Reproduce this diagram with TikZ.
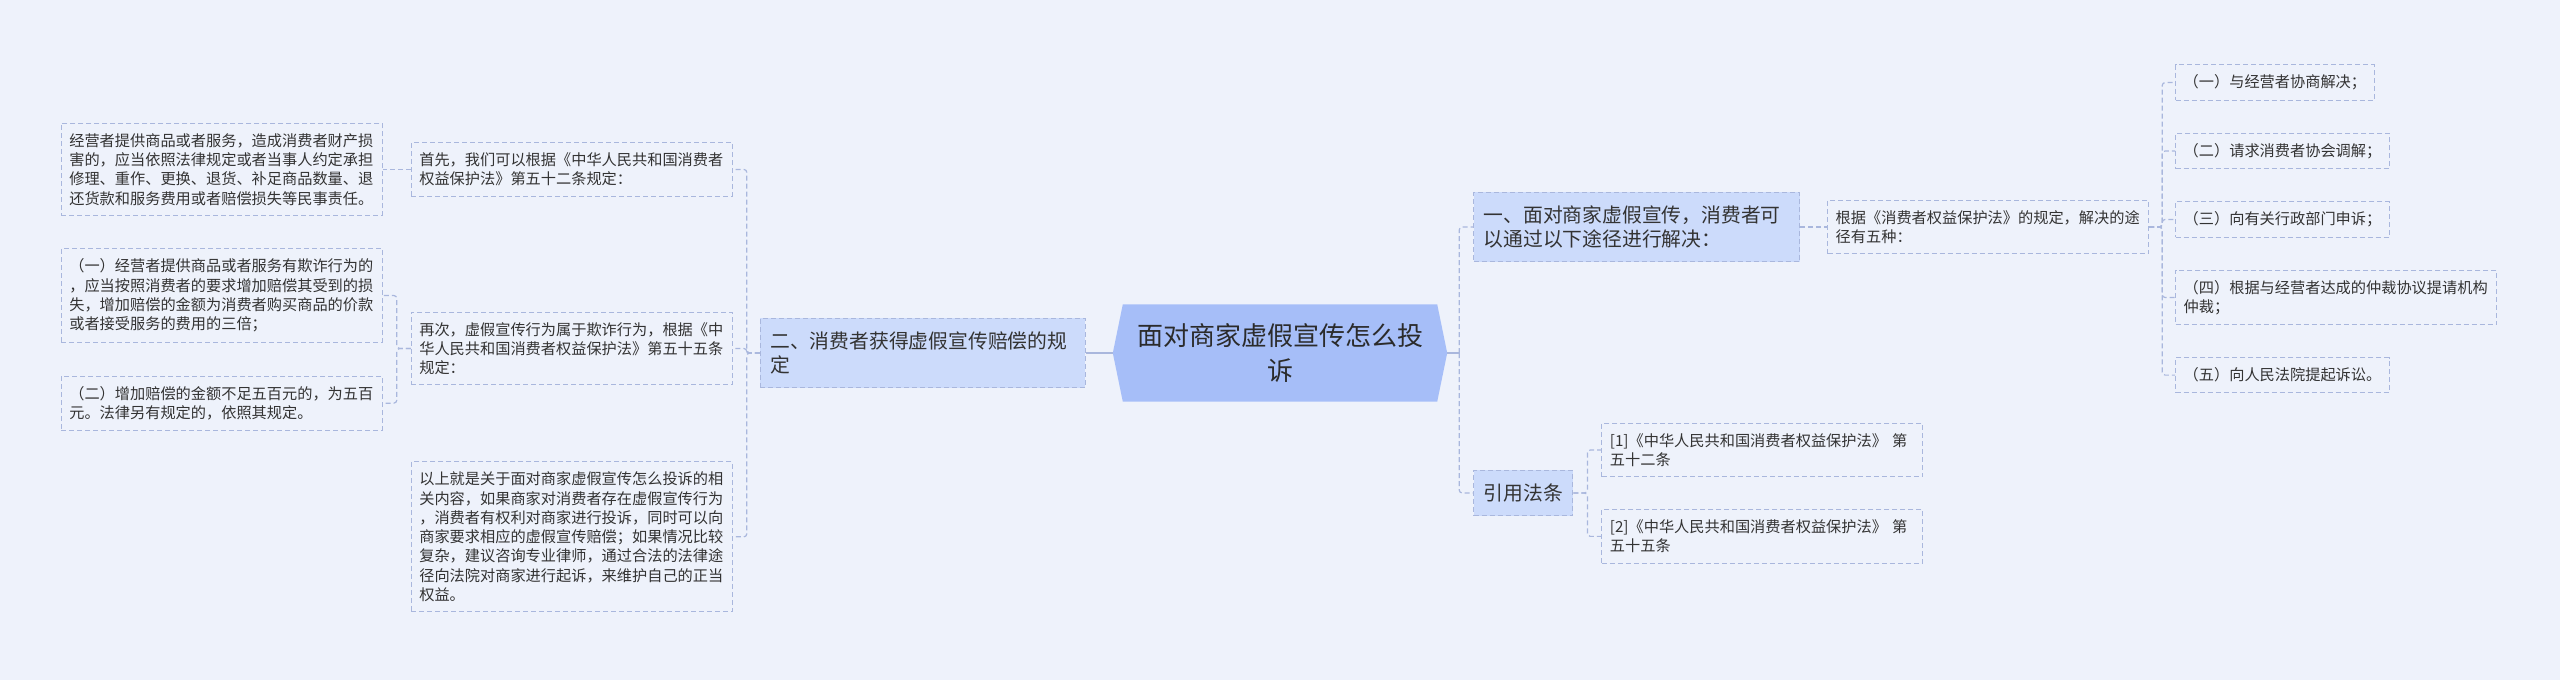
\documentclass[tikz,border=0pt]{standalone}
\usepackage{fontspec}
\newfontfamily\cjk{Noto Sans CJK SC}
\usepackage{tikz}
\usetikzlibrary{positioning, backgrounds, calc}
\definecolor{mpage}{HTML}{EEF2FB}
\definecolor{mroot}{HTML}{A6BEF8}
\definecolor{mbranch}{HTML}{CCDBFB}
\definecolor{mline}{HTML}{A9B7DD}
\definecolor{mtext}{HTML}{333333}
\pgfdeclarelayer{canvas}
\pgfsetlayers{canvas,background,main}
\tikzset{
  rootbox/.style={minimum width=334pt, minimum height=97pt, inner sep=0pt,
                  align=center, text=mtext!85!black, font=\cjk\fontsize{26}{35}\selectfont},
  branchbox/.style={draw=mline, dash pattern=on 5pt off 3pt, line width=1pt, fill=mbranch,
                    inner xsep=10pt, inner ysep=13.5pt, align=left, text=mtext,
                    font=\cjk\fontsize{19.8}{24}\selectfont},
  note/.style={draw=mline, dash pattern=on 5pt off 3pt, line width=1pt,
               inner xsep=8pt, inner ysep=10pt, align=left, text=mtext,
               font=\cjk\fontsize{15.2}{19.3}\selectfont},
  widenote/.style={note, text width=305pt},
  link/.style={mline, dash pattern=on 5pt off 3pt, line width=1.2pt, rounded corners=3pt},
  trunk/.style={mline, line width=1.5pt},
}

\begin{document}
\begin{tikzpicture}[x=1pt, y=-1pt]
  \useasboundingbox (0,0) rectangle (2560,680);
  \begin{pgfonlayer}{canvas}
    \fill[mpage] (0,0) rectangle (2560,680);
  \end{pgfonlayer}

  % centre
  \node[rootbox] (root) at (1280,353) {面对商家虚假宣传怎么投\\诉};
  \begin{pgfonlayer}{background}
    \fill[mroot] (root.west) -- ([xshift=10pt]root.north west) -- ([xshift=-10pt]root.north east)
      -- (root.east) -- ([xshift=-10pt]root.south east) -- ([xshift=10pt]root.south west) -- cycle;
  \end{pgfonlayer}

  % left side
  \node[branchbox, text width=305pt, left=27pt of root] (claim) {二、消费者获得虚假宣传赔偿的规\\定};
  \node[widenote, left=27pt of claim, yshift=4.5pt] (art55) {再次，虚假宣传行为属于欺诈行为，根据《中\\华人民共和国消费者权益保护法》第五十五条\\规定：};
  \node[widenote, above=115pt of art55] (art52) {首先，我们可以根据《中华人民共和国消费者\\权益保护法》第五十二条规定：};
  \node[widenote, below=76pt of art55] (summary) {以上就是关于面对商家虚假宣传怎么投诉的相\\关内容，如果商家对消费者存在虚假宣传行为\\，消费者有权利对商家进行投诉，同时可以向\\商家要求相应的虚假宣传赔偿；如果情况比较\\复杂，建议咨询专业律师，通过合法的法律途\\径向法院对商家进行起诉，来维护自己的正当\\权益。};
  \node[widenote, left=28pt of art52] (duty) {经营者提供商品或者服务，造成消费者财产损\\害的，应当依照法律规定或者当事人约定承担\\修理、重作、更换、退货、补足商品数量、退\\还货款和服务费用或者赔偿损失等民事责任。};
  \node[widenote, left=28pt of art55, yshift=53pt] (triple) {（一）经营者提供商品或者服务有欺诈行为的\\，应当按照消费者的要求增加赔偿其受到的损\\失，增加赔偿的金额为消费者购买商品的价款\\或者接受服务的费用的三倍；};
  \node[widenote, below=33pt of triple] (minimum) {（二）增加赔偿的金额不足五百元的，为五百\\元。法律另有规定的，依照其规定。};

  % right side
  \node[branchbox, text width=306pt, right=26pt of root, yshift=126pt] (ways) {一、面对商家虚假宣传，消费者可\\以通过以下途径进行解决：};
  \node[branchbox, right=26pt of root, yshift=-140pt] (cite) {引用法条};
  \node[widenote, right=27pt of ways] (five) {根据《消费者权益保护法》的规定，解决的途\\径有五种：};
  \node[note, right=26pt of five, yshift=144.5pt] (way1) {（一）与经营者协商解决；};
  \node[note, below=32pt of way1.south west, anchor=north west] (way2) {（二）请求消费者协会调解；};
  \node[note, below=32pt of way2.south west, anchor=north west] (way3) {（三）向有关行政部门申诉；};
  \node[widenote, below=32pt of way3.south west, anchor=north west] (way4) {（四）根据与经营者达成的仲裁协议提请机构\\仲裁；};
  \node[note, below=32pt of way4.south west, anchor=north west] (way5) {（五）向人民法院提起诉讼。};
  \node[widenote, right=28pt of cite, yshift=43pt] (law1) {[1]《中华人民共和国消费者权益保护法》 第\\五十二条};
  \node[widenote, below=32pt of law1] (law2) {[2]《中华人民共和国消费者权益保护法》 第\\五十五条};

  % connectors
  \draw[trunk] (root.west) -- (claim.east);
  \draw[trunk] (root.east) -- ++(12pt,0) coordinate (rfork);
  \draw[link] (rfork) |- (ways.west);
  \draw[link] (rfork) |- (cite.west);
  \draw[link] (claim.west) -- ++(-13pt,0) |- (art52.east);
  \draw[link] (claim.west) -- ++(-13pt,0) |- (art55.east);
  \draw[link] (claim.west) -- ++(-13pt,0) |- (summary.east);
  \draw[link] (art52.west) -- (duty.east);
  \draw[link] (art55.west) -- ++(-14pt,0) |- (triple.east);
  \draw[link] (art55.west) -- ++(-14pt,0) |- (minimum.east);
  \draw[link] (ways.east) -- (five.west);
  \draw[link] (five.east) -- ++(13pt,0) |- (way1.west);
  \draw[link] (five.east) -- ++(13pt,0) |- (way2.west);
  \draw[link] (five.east) -- ++(13pt,0) |- (way3.west);
  \draw[link] (five.east) -- ++(13pt,0) |- (way4.west);
  \draw[link] (five.east) -- ++(13pt,0) |- (way5.west);
  \draw[link] (cite.east) -- ++(14pt,0) |- (law1.west);
  \draw[link] (cite.east) -- ++(14pt,0) |- (law2.west);
\end{tikzpicture}
\end{document}
